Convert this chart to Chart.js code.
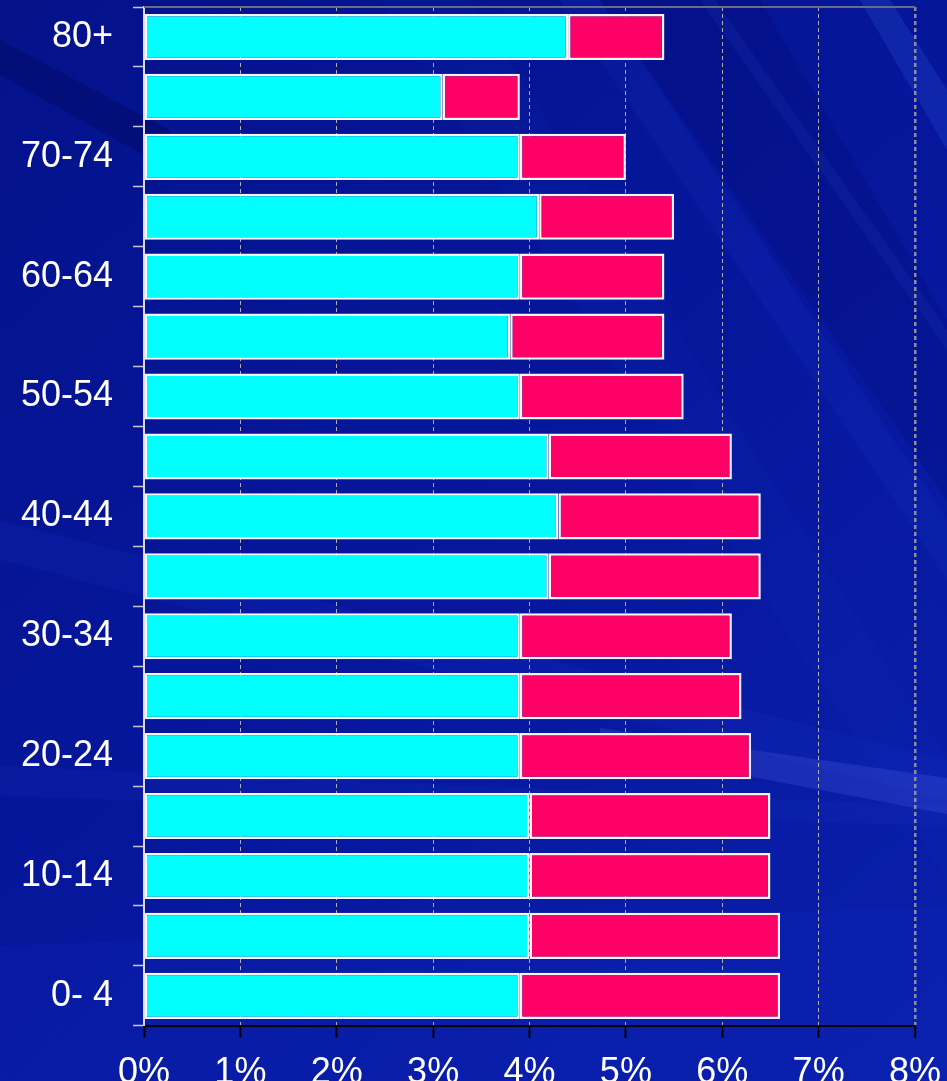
<!DOCTYPE html>
<html>
<head>
<meta charset="utf-8">
<title>Age structure</title>
<script src="https://cdn.jsdelivr.net/npm/chart.js@4/dist/chart.umd.min.js"></script>
<style>
  html, body { margin: 0; padding: 0; background: #0716a0; overflow: hidden; }
  #wrap { position: relative; width: 947px; height: 1109px; }
</style>
</head>
<body>
<div id="wrap"><canvas id="chart"></canvas></div>
<script>
// Age groups, youngest first (drawn bottom to top)
const ageGroups = ['0- 4', '5- 9', '10-14', '15-19', '20-24', '25-29', '30-34', '35-39',
                   '40-44', '45-49', '50-54', '55-59', '60-64', '65-69', '70-74', '75-79', '80+'];
// Share of population (%), first segment
const seriesA = [3.9, 4.0, 4.0, 4.0, 3.9, 3.9, 3.9, 4.2, 4.3, 4.2, 3.9, 3.8, 3.9, 4.1, 3.9, 3.1, 4.4];
// Share of population (%), second segment stacked on top
const seriesB = [2.7, 2.6, 2.5, 2.5, 2.4, 2.3, 2.2, 2.2, 2.1, 1.9, 1.7, 1.6, 1.5, 1.4, 1.1, 0.8, 1.0];
// Horizontal axis ticks (%)
const xTicks = [0, 1, 2, 3, 4, 5, 6, 7, 8];

// Dark blue backdrop with soft diagonal light streaks
const backdrop = {
  id: 'backdrop',
  beforeDraw(chart) {
    const { ctx, width, height } = chart;
    ctx.save();
    const g = ctx.createLinearGradient(0, 0, width, height);
    g.addColorStop(0, '#04128a');
    g.addColorStop(0.5, '#06179c');
    g.addColorStop(1, '#0a20ac');
    ctx.fillStyle = g;
    ctx.fillRect(0, 0, width, height);

    const band = (pts, color) => {
      ctx.beginPath();
      ctx.moveTo(pts[0][0], pts[0][1]);
      for (let i = 1; i < pts.length; i++) ctx.lineTo(pts[i][0], pts[i][1]);
      ctx.closePath();
      ctx.fillStyle = color;
      ctx.fill();
    };
    // steep streaks on the right
    band([[560, 0], [600, 0], [947, 520], [947, 580]], 'rgba(40,80,230,0.10)');
    band([[700, 0], [715, 0], [947, 330], [947, 350]], 'rgba(60,100,240,0.12)');
    band([[860, 0], [890, 0], [947, 90], [947, 150]], 'rgba(60,110,250,0.18)');
    band([[380, 0], [470, 0], [947, 760], [947, 880]], 'rgba(30,60,200,0.08)');
    // darker wedge in the upper middle of the plot
    band([[600, 0], [760, 0], [947, 320], [947, 500]], 'rgba(0,0,80,0.15)');
    // dark streak at top left
    band([[0, 40], [0, 75], [170, 170], [170, 130]], 'rgba(0,0,60,0.22)');
    // lighter shallow bands in the lower half
    band([[0, 520], [0, 560], [947, 800], [947, 760]], 'rgba(30,60,210,0.14)');
    band([[600, 728], [947, 778], [947, 814], [600, 748]], 'rgba(90,110,240,0.22)');
    band([[0, 766], [0, 796], [947, 826], [947, 806]], 'rgba(40,70,220,0.10)');
    band([[0, 946], [947, 906], [947, 1109], [0, 1109]], 'rgba(20,50,200,0.15)');
    ctx.restore();
  },
  beforeDatasetsDraw(chart) {
    // top frame line of the plot area
    const { ctx, chartArea } = chart;
    ctx.save();
    ctx.strokeStyle = '#6a6c86';
    ctx.lineWidth = 2;
    ctx.beginPath();
    ctx.moveTo(chartArea.left, chartArea.top);
    ctx.lineTo(chartArea.right, chartArea.top);
    ctx.stroke();
    ctx.restore();
  }
};

const barStyle = {
  borderColor: '#f4f4f4',
  borderWidth: 2.5,
  borderSkipped: false,
  barPercentage: 0.77,
  categoryPercentage: 1.0
};

const labelFont = { family: '"Liberation Sans", Arial, sans-serif', size: 36 };

new Chart(document.getElementById('chart'), {
  type: 'bar',
  data: {
    labels: ageGroups,
    datasets: [
      Object.assign({ label: 'A', data: seriesA, backgroundColor: '#00ffff' }, barStyle),
      Object.assign({ label: 'B', data: seriesB, backgroundColor: '#ff0066' }, barStyle)
    ]
  },
  options: {
    indexAxis: 'y',
    responsive: true,
    maintainAspectRatio: false,
    animation: false,
    layout: { padding: { top: 7, right: 32, left: 0, bottom: 0 } },
    plugins: { legend: { display: false }, tooltip: { enabled: false } },
    scales: {
      x: {
        type: 'linear',
        stacked: true,
        min: xTicks[0],
        max: xTicks[xTicks.length - 1],
        afterBuildTicks(scale) { scale.ticks = xTicks.map(v => ({ value: v })); },
        afterFit(scale) { scale.paddingLeft = 0; scale.paddingRight = 0; },
        ticks: {
          color: '#ffffff',
          font: labelFont,
          padding: 14,
          maxRotation: 0,
          callback: v => v + '%'
        },
        grid: {
          color: ctx => ctx.tick && ctx.tick.value === 0 ? 'rgba(0,0,0,0)' :
                        (ctx.tick && ctx.tick.value === 8 ? '#8c8c9a' : 'rgba(205,200,175,0.85)'),
          lineWidth: ctx => ctx.tick && ctx.tick.value === 8 ? 2.5 : 1,
          tickColor: '#000000',
          tickWidth: 2,
          tickLength: 12
        },
        border: { display: true, color: '#000000', width: 2, dash: [4, 3] }
      },
      y: {
        stacked: true,
        reverse: true,
        afterFit(scale) { scale.width = 144; scale.paddingTop = 0; scale.paddingBottom = 0; },
        ticks: {
          color: '#ffffff',
          font: labelFont,
          padding: 20,
          autoSkip: false,
          callback: (v, i) => i % 2 === 0 ? ageGroups[i] : ''
        },
        grid: {
          drawOnChartArea: false,
          tickColor: '#c8c8d0',
          tickLength: 11,
          tickWidth: 1.5,
          offset: true
        },
        border: { display: true, color: '#d8d8e0', width: 2 }
      }
    }
  },
  plugins: [backdrop]
});
</script>
</body>
</html>
